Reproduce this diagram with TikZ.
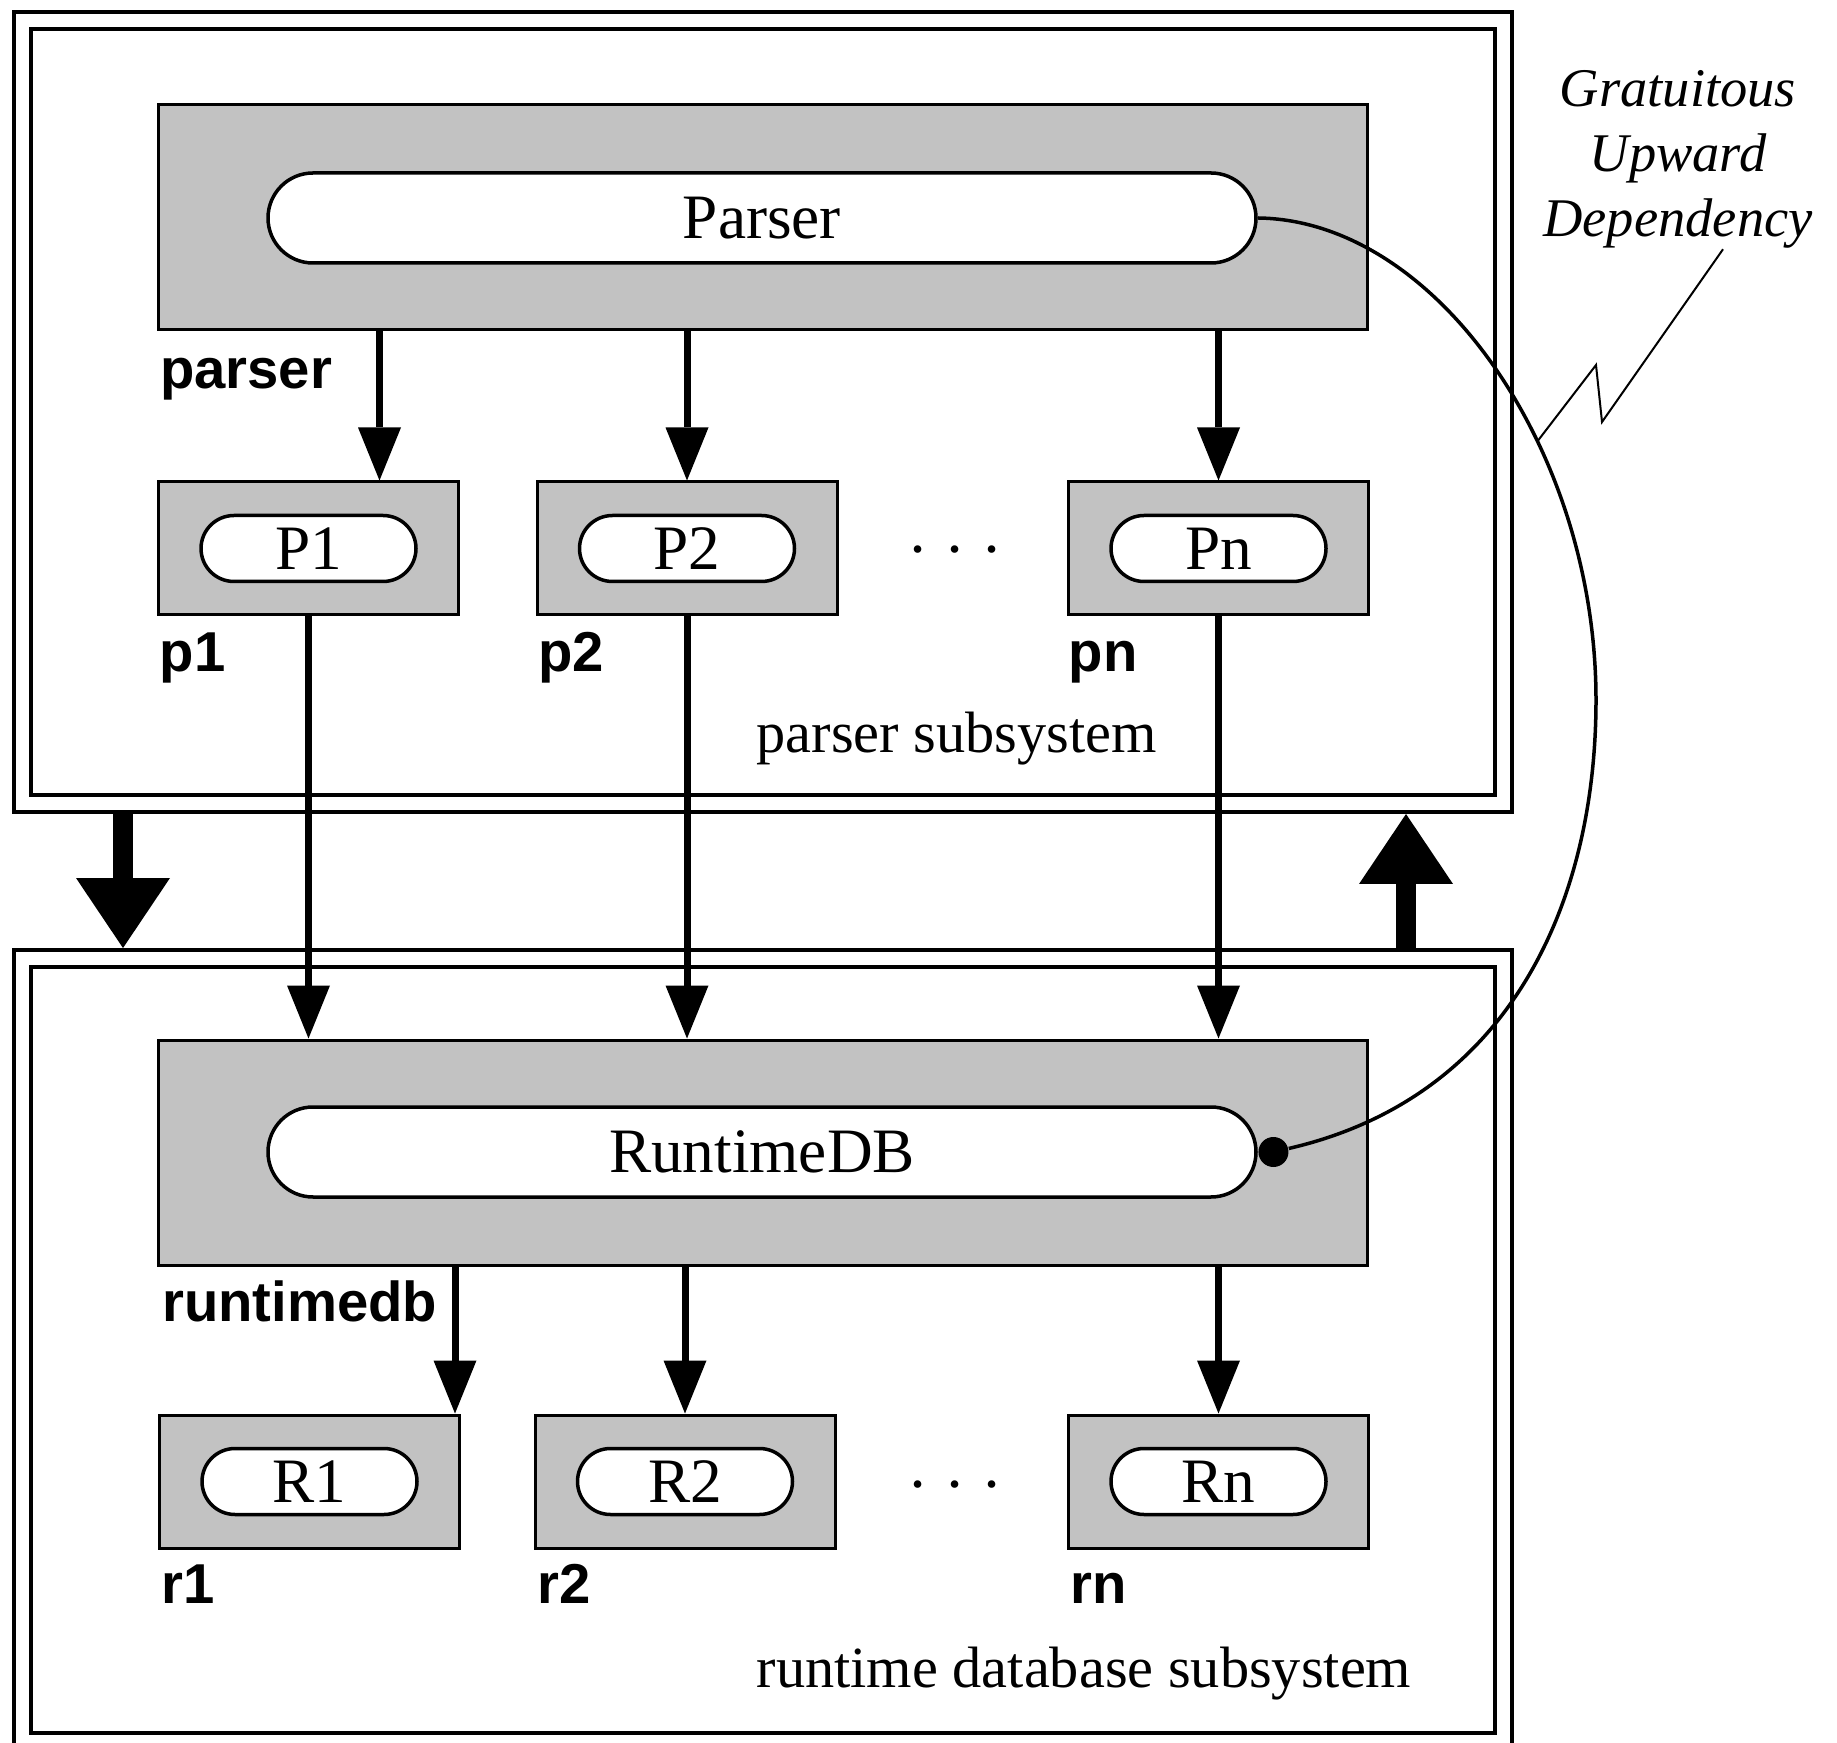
\documentclass[tikz,border=0pt]{standalone}
\usepackage{fontspec}
\setmainfont{Liberation Serif}
\setsansfont{Liberation Sans}
\usetikzlibrary{positioning, calc, arrows.meta}
\definecolor{dither}{gray}{0.76}

\begin{document}
\begin{tikzpicture}[
    x=0.1mm, y=-0.1mm,
    % Styles
    frame/.style={
        rectangle,
        draw=black,
        line width=0.4mm,
        double=white,
        double distance=1.3mm,
        inner sep=0pt,
        outer sep=1.05mm,
        minimum width=148.1mm,
        minimum height=78.3mm
    },
    modbox/.style={
        rectangle,
        draw=black,
        fill=dither,
        line width=0.3mm,
        inner sep=0pt
    },
    bigmod/.style={
        modbox,
        minimum width=120.9mm,
        minimum height=22.5mm
    },
    smallmod/.style={
        modbox,
        minimum width=30mm,
        minimum height=13.3mm
    },
    pill/.style={
        rectangle,
        draw=black,
        fill=white,
        line width=0.35mm,
        rounded corners=4.5mm,
        minimum width=98.8mm,
        minimum height=9mm,
        inner sep=0pt,
        font=\fontsize{18pt}{21pt}\selectfont
    },
    smallpill/.style={
        pill,
        rounded corners=3.3mm,
        minimum width=21.5mm,
        minimum height=6.6mm
    },
    tag/.style={
        anchor=base west,
        inner sep=0pt,
        font=\sffamily\bfseries\fontsize{16pt}{19pt}\selectfont
    },
    subsys/.style={
        anchor=base west,
        inner sep=0pt,
        font=\fontsize{16.6pt}{20pt}\selectfont
    },
    note/.style={
        align=center,
        inner sep=0pt,
        font=\itshape\fontsize{15.5pt}{18.5pt}\selectfont
    },
    ellipsis/.style={
        inner sep=0pt,
        font=\fontsize{18pt}{21pt}\selectfont
    },
    depdot/.style={
        circle,
        fill=black,
        inner sep=0pt,
        minimum size=3mm
    },
    flow/.style={
        -{Triangle[length=5.3mm, width=4.3mm, line width=0pt]},
        line width=0.7mm
    },
    bigflow/.style={
        -{Triangle[length=7mm, width=9.4mm, line width=0pt]},
        line width=2mm
    },
    depend/.style={
        line width=0.35mm
    },
    leader/.style={
        line width=0.2mm
    }
]
    \useasboundingbox (0,0) rectangle (1837,1743);

    % ================= SUBSYSTEM FRAMES =================
    \node[frame] (topframe) at (763,412) {};
    \node[frame] (botframe) at (763,1350) {};

    % ================= PARSER SUBSYSTEM =================
    \node[bigmod] (parserbox) at (762.5,217.5) {};
    \node[pill] (parserpill) at (762,218) {Parser};
    \node[tag] (parsertag) at ([xshift=0.3mm, yshift=-5.7mm]parserbox.south west) {parser};

    \node[smallmod] (p1) at (308.5,548.5) {};
    \node[smallmod] (p2) at (687,548.5) {};
    \node[smallmod] (pn) at (1218.5,548.5) {};
    \node[smallpill] (P1) at (p1) {P1};
    \node[smallpill] (P2) at (p2) {P2};
    \node[smallpill] (Pn) at (pn) {Pn};
    \node[ellipsis] (pdots) at (955,558) {·~·~·};

    \node[tag] (p1tag) at ([xshift=0.2mm, yshift=-5.5mm]p1.south west) {p1};
    \node[tag] (p2tag) at ([xshift=0.2mm, yshift=-5.5mm]p2.south west) {p2};
    \node[tag] (pntag) at ([xshift=0.1mm, yshift=-5.5mm]pn.south west) {pn};
    \node[subsys] (parsersub) at (756,753) {parser subsystem};

    % ================= RUNTIME DATABASE SUBSYSTEM =================
    \node[bigmod] (rtbox) at (762.5,1152.5) {};
    \node[pill] (rtpill) at (762,1152) {RuntimeDB};
    \node[tag] (rttag) at ([xshift=0.5mm, yshift=-5.5mm]rtbox.south west) {runtimedb};

    \node[smallmod] (r1) at (309.5,1481.5) {};
    \node[smallmod] (r2) at (685,1481.5) {};
    \node[smallmod] (rn) at (1218.5,1481.5) {};
    \node[smallpill] (R1) at (r1) {R1};
    \node[smallpill] (R2) at (r2) {R2};
    \node[smallpill] (Rn) at (rn) {Rn};
    \node[ellipsis] (rdots) at (955,1493) {·~·~·};

    \node[tag] (r1tag) at ([xshift=0.3mm, yshift=-5.4mm]r1.south west) {r1};
    \node[tag] (r2tag) at ([xshift=0.3mm, yshift=-5.4mm]r2.south west) {r2};
    \node[tag] (rntag) at ([xshift=0.3mm, yshift=-5.4mm]rn.south west) {rn};
    \node[subsys] (rtsub) at (756,1687) {runtime database subsystem};

    % ================= ANNOTATION =================
    \node[note, anchor=north] (gud) at (1678,70) {Gratuitous\\Upward\\Dependency};
    \node[depdot, right=0pt of rtpill] (dot) {};

    % ================= CONNECTIONS / ARROWS =================
    % Subsystem level
    \coordinate (downx) at (123,0);
    \coordinate (upx) at (1406,0);
    \draw[bigflow] (topframe.south -| downx) -- (botframe.north -| downx);
    \draw[bigflow] (botframe.north -| upx) -- (topframe.south -| upx);

    % Parser to its parts
    \coordinate (p1in) at ([xshift=7.1mm]p1.north);
    \draw[flow] (parserbox.south -| p1in) -- (p1in);
    \draw[flow] (parserbox.south -| p2.north) -- (p2.north);
    \draw[flow] (parserbox.south -| pn.north) -- (pn.north);

    % Parts down to RuntimeDB
    \draw[flow] (p1.south) -- (p1.south |- rtbox.north);
    \draw[flow] (p2.south) -- (p2.south |- rtbox.north);
    \draw[flow] (pn.south) -- (pn.south |- rtbox.north);

    % RuntimeDB to its parts
    \coordinate (r1in) at ([xshift=-0.6mm]r1.north east);
    \draw[flow] (rtbox.south -| r1in) -- (r1in);
    \draw[flow] (rtbox.south -| r2.north) -- (r2.north);
    \draw[flow] (rtbox.south -| rn.north) -- (rn.north);

    % Upward dependency
    \coordinate (bulge) at (1596,700);
    \draw[depend] (parserpill.east) .. controls (1436,220) and (1596,450) .. (bulge)
        coordinate[pos=0.63] (hit)
        .. controls (1596,900) and (1512,1097) .. (dot);

    % Leader from the note
    \coordinate (leadtop) at ([xshift=4.5mm]gud.south);
    \coordinate (zigA) at (1602,422);
    \coordinate (zigB) at (1596,365);
    \draw[leader] (leadtop) -- (zigA) -- (zigB) -- (hit);

\end{tikzpicture}
\end{document}
